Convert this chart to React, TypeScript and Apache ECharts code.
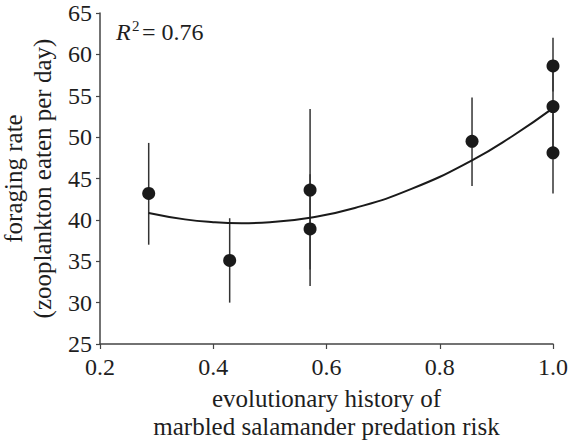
import React, { useEffect, useRef } from "react";
import * as echarts from "echarts";

const riskX = [0.286, 0.429, 0.571, 0.571, 0.857, 1.0, 1.0, 1.0];
const foragingMean = [43.2, 35.1, 43.6, 38.9, 49.5, 58.6, 53.7, 48.1];
const errLow = [37.0, 30.0, 34.0, 32.0, 44.1, 55.5, 48.5, 43.2];
const errHigh = [49.3, 40.2, 53.4, 45.5, 54.8, 62.0, 59.0, 53.0];

const fitX = [0.286, 0.35, 0.4, 0.45, 0.5, 0.571, 0.65, 0.75, 0.857, 0.93, 1.0];
const fitY = [40.84, 40.06, 39.72, 39.6, 39.72, 40.27, 41.44, 43.74, 47.2, 50.2, 53.5];

const xTicks = [0.2, 0.4, 0.6, 0.8, 1.0];
const yTicks = [25, 30, 35, 40, 45, 50, 55, 60, 65];

const FONT = "Liberation Serif";
const INK = "#1e1e1e";

export default function App() {
  const ref = useRef<HTMLDivElement>(null);
  useEffect(() => {
    if (!ref.current) return;
    const chart = echarts.init(ref.current, null, { renderer: "svg" });
    const errData = riskX.map((x, i) => [x, errLow[i], errHigh[i]]);
    chart.setOption({
      animation: false,
      grid: { left: 100, right: 16, top: 13, bottom: 97, containLabel: false, outerBoundsMode: "none" },
      xAxis: {
        type: "value",
        min: xTicks[0],
        max: xTicks[xTicks.length - 1],
        interval: 0.2,
        name: "evolutionary history of\nmarbled salamander predation risk",
        nameLocation: "middle",
        nameGap: 40,
        nameTextStyle: { fontFamily: FONT, fontSize: 25, color: INK, lineHeight: 28, verticalAlign: "top" },
        axisLine: { show: true, lineStyle: { color: "#444", width: 1.5 } },
        axisTick: { show: true, length: 5, lineStyle: { color: "#444", width: 1.2 } },
        axisLabel: {
          fontFamily: FONT, fontSize: 24, color: INK, margin: 11,
          formatter: (v: number) => v.toFixed(1),
        },
        splitLine: { show: false },
      },
      yAxis: {
        type: "value",
        min: yTicks[0],
        max: yTicks[yTicks.length - 1],
        interval: 5,
        name: "foraging rate\n(zooplankton eaten per day)",
        nameLocation: "middle",
        nameGap: 42,
        nameRotate: 90,
        nameTextStyle: { fontFamily: FONT, fontSize: 25, color: INK, lineHeight: 29 },
        axisLine: { show: true, lineStyle: { color: "#444", width: 1.5 } },
        axisTick: { show: true, length: 4, lineStyle: { color: "#444", width: 1.2 } },
        axisLabel: { fontFamily: FONT, fontSize: 24, color: INK, margin: 8 },
        splitLine: { show: false },
      },
      graphic: [
        {
          type: "group",
          x: 0,
          y: 0,
          children: [
            {
              type: "text",
              x: 116,
              y: 32,
              style: { text: "R", fontFamily: FONT, fontSize: 24, fontStyle: "italic", fill: INK, verticalAlign: "middle", align: "left" },
            },
            {
              type: "text",
              x: 132,
              y: 26,
              style: { text: "2", fontFamily: FONT, fontSize: 15, fill: INK, verticalAlign: "middle", align: "left" },
            },
            {
              type: "text",
              x: 142,
              y: 32,
              style: { text: "= 0.76", fontFamily: FONT, fontSize: 24, fill: INK, verticalAlign: "middle", align: "left" },
            },
          ],
        },
      ],
      series: [
        {
          type: "custom",
          data: errData,
          renderItem: (params: any, api: any) => {
            const p1 = api.coord([api.value(0), api.value(1)]);
            const p2 = api.coord([api.value(0), api.value(2)]);
            return {
              type: "line",
              shape: { x1: p1[0], y1: p1[1], x2: p2[0], y2: p2[1] },
              style: { stroke: "#333", lineWidth: 1.5 },
            };
          },
          z: 1,
        },
        {
          type: "line",
          data: fitX.map((x, i) => [x, fitY[i]]),
          smooth: true,
          showSymbol: false,
          symbol: "none",
          lineStyle: { color: "#1a1a1a", width: 2 },
          z: 2,
        },
        {
          type: "scatter",
          data: riskX.map((x, i) => [x, foragingMean[i]]),
          symbol: "circle",
          symbolSize: 13,
          itemStyle: { color: "#1a1a1a", opacity: 1 },
          z: 3,
        },
      ],
    });
    return () => chart.dispose();
  }, []);
  return (
    <div
      ref={ref}
      style={{ position: "fixed", left: 0, top: 0, width: 569, height: 441, background: "#fff" }}
    />
  );
}
